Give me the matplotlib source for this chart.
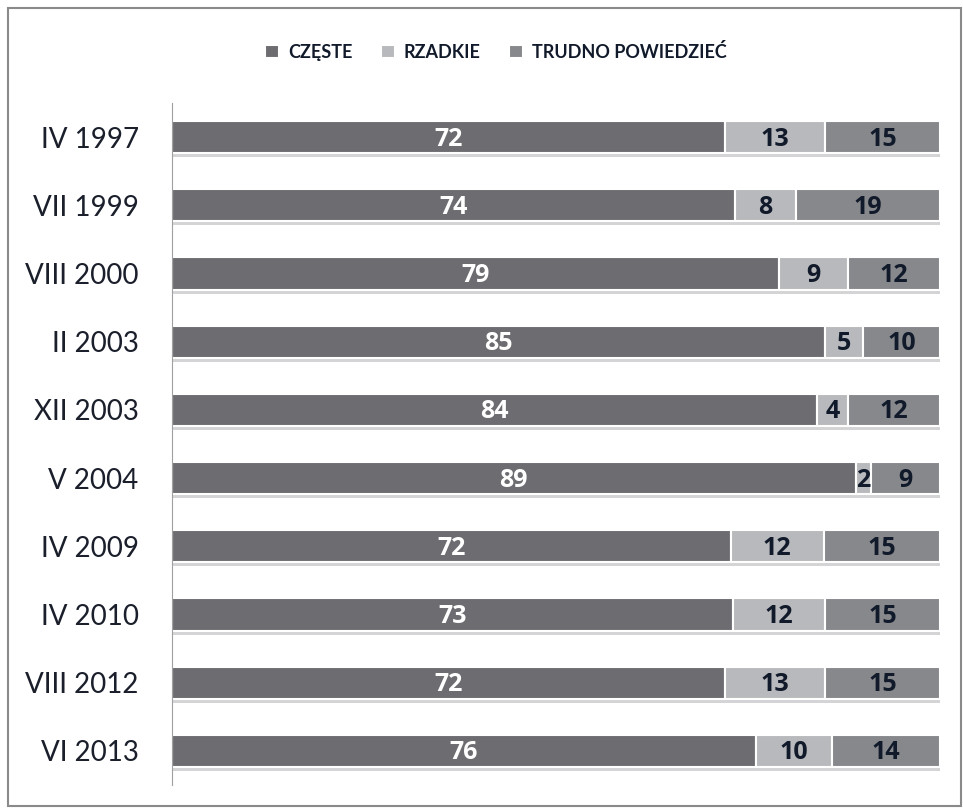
import matplotlib
matplotlib.use('Agg')
import matplotlib.pyplot as plt
from matplotlib.patches import Rectangle
import numpy as np

plt.rcParams['font.family'] = ['Lato', 'DejaVu Sans']

labels = ['IV 1997', 'VII 1999', 'VIII 2000', 'II 2003', 'XII 2003',
          'V 2004', 'IV 2009', 'IV 2010', 'VIII 2012', 'VI 2013']
czeste = [72, 74, 79, 85, 84, 89, 72, 73, 72, 76]
rzadkie = [13, 8, 9, 5, 4, 2, 12, 12, 13, 10]
trudno = [15, 19, 12, 10, 12, 9, 15, 15, 15, 14]

series = [
    ('CZĘSTE', czeste, '#6d6c71', 'white'),
    ('RZADKIE', rzadkie, '#b8b9bc', '#111a2a'),
    ('TRUDNO POWIEDZIEĆ', trudno, '#87888b', '#111a2a'),
]

fig = plt.figure(figsize=(9.63, 8.09), dpi=100)
ax = fig.add_axes([172 / 963, 1 - 785 / 809, (940 - 172) / 963, (785 - 103) / 809])

# outer frame
fig.patches.append(Rectangle((8 / 963, 3 / 809), 953 / 963, 798 / 809,
                             transform=fig.transFigure, fill=False,
                             edgecolor='#8a8a8a', linewidth=1.5))

y = np.arange(len(labels))
totals = np.array(czeste) + np.array(rzadkie) + np.array(trudno)
h = 0.47

# soft shadow under bars
ax.barh(y + 0.06, 100, height=h, left=0, color='#d4d4d6', zorder=1)

left = np.zeros(len(labels))
for name, vals, col, tcol in series:
    w = np.array(vals) / totals * 100
    ax.barh(y, w, left=left, height=h, color=col, edgecolor='white',
            linewidth=1.5, label=name, zorder=2)
    for yi, (l, wi, v) in enumerate(zip(left, w, vals)):
        ax.text(l + wi / 2, yi + 0.03, str(v), ha='center', va='center',
                color=tcol, fontsize=18, fontweight='bold',
                family=['Open Sans', 'DejaVu Sans'], zorder=3)
    left = left + w

ax.set_xlim(0, 100)
ax.set_ylim(len(labels) - 0.5, -0.5)
ax.set_yticks(y)
ax.set_yticklabels(labels, fontsize=20, color='#1a1f2b')
ax.tick_params(axis='y', length=0, pad=24)
ax.set_xticks([])
for s in ['top', 'right', 'bottom']:
    ax.spines[s].set_visible(False)
ax.spines['left'].set_color('#a0a0a0')

leg = fig.legend(loc='center', bbox_to_anchor=(0.515, 1 - 52 / 809), ncol=3,
                 frameon=False, handlelength=0.75, handleheight=0.75,
                 handletextpad=0.5, columnspacing=1.6,
                 prop={'size': 13, 'weight': 'bold'})
for t in leg.get_texts():
    t.set_color('#111a2a')

fig.savefig('out.png', dpi=100, facecolor='white')
